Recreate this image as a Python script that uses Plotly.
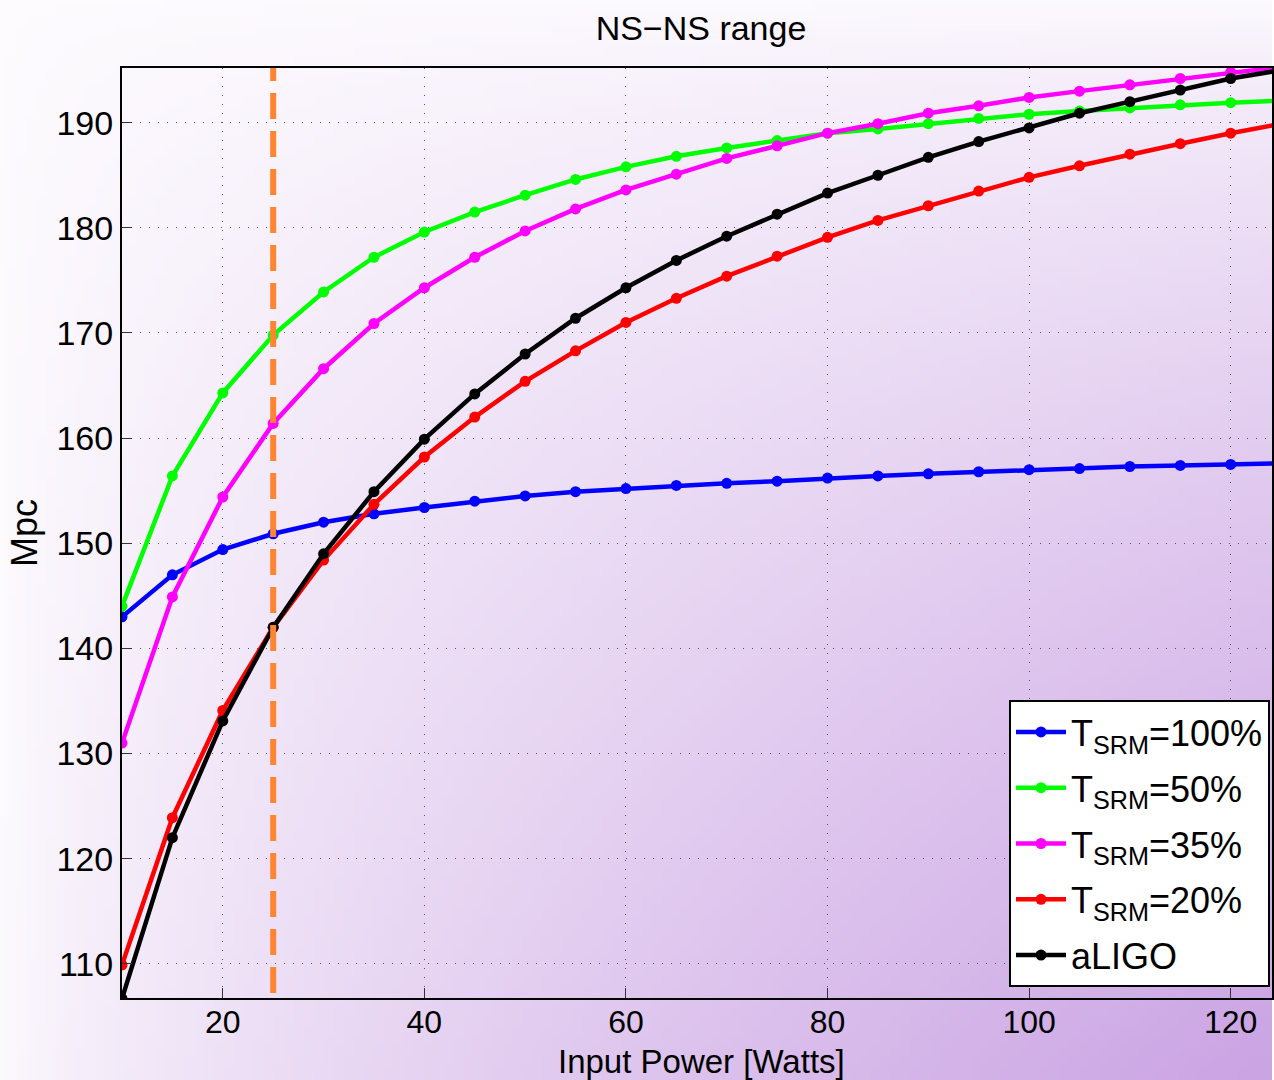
import base64, struct, zlib
import plotly.graph_objects as go

# ---------------- data ----------------
power = [10, 15, 20, 25, 30, 35, 40, 45, 50, 55, 60, 65, 70, 75, 80, 85, 90, 95,
         100, 105, 110, 115, 120, 125]
t100 = [143.0, 147.0, 149.4, 150.9, 152.0, 152.8, 153.4, 154.0, 154.5, 154.9, 155.2,
        155.5, 155.7, 155.9, 156.2, 156.4, 156.6, 156.8, 157.0, 157.1, 157.3, 157.4,
        157.5, 157.6]
t50 = [144.0, 156.4, 164.3, 169.8, 173.9, 177.2, 179.6, 181.5, 183.1, 184.6, 185.8,
       186.8, 187.6, 188.3, 189.0, 189.4, 189.9, 190.4, 190.8, 191.1, 191.4, 191.7,
       191.9, 192.1]
t35 = [131.0, 144.9, 154.4, 161.4, 166.6, 170.9, 174.3, 177.2, 179.7, 181.8, 183.6,
       185.1, 186.6, 187.8, 189.0, 189.9, 190.9, 191.6, 192.4, 193.0, 193.6, 194.2,
       194.8, 195.3]
t20 = [109.9, 123.9, 134.1, 142.0, 148.4, 153.7, 158.2, 162.0, 165.4, 168.3, 171.0,
       173.3, 175.4, 177.3, 179.1, 180.7, 182.1, 183.5, 184.8, 185.9, 187.0, 188.0,
       189.0, 189.9]
aligo = [106.7, 122.0, 133.1, 142.0, 149.0, 154.9, 159.9, 164.2, 168.0, 171.4, 174.3,
         176.9, 179.2, 181.3, 183.3, 185.0, 186.7, 188.2, 189.5, 190.9, 192.0, 193.1,
         194.2, 195.0]
ref_power = 25
series_names = ["T<sub>SRM</sub>=100%", "T<sub>SRM</sub>=50%", "T<sub>SRM</sub>=35%",
                "T<sub>SRM</sub>=20%", "aLIGO"]
series_colors = ["#0000ff", "#00ff00", "#ff00ff", "#ff0000", "#000000"]
x_ticks = [20, 40, 60, 80, 100, 120]
y_ticks = [110, 120, 130, 140, 150, 160, 170, 180, 190]

# ---------------- background gradient (decoration) ----------------
W, H = 128, 108
c0 = (253, 251, 254)
c1 = (202, 163, 227)
rows = []
for j in range(H):
    row = bytearray([0])
    yn = (j + 0.5) / H
    for i in range(W):
        xn = (i + 0.5) / W
        t = (xn * yn) ** 0.7
        row += bytes(int(round(c0[k] + (c1[k] - c0[k]) * t)) for k in range(3))
    rows.append(bytes(row))
raw = b"".join(rows)

def chunk(tag, data):
    c = struct.pack(">I", len(data)) + tag + data
    return c + struct.pack(">I", zlib.crc32(tag + data) & 0xffffffff)

png = b"\x89PNG\r\n\x1a\n" + chunk(b"IHDR", struct.pack(">IIBBBBB", W, H, 8, 2, 0, 0, 0)) \
    + chunk(b"IDAT", zlib.compress(raw, 9)) + chunk(b"IEND", b"")
bg_src = "data:image/png;base64," + base64.b64encode(png).decode()

# ---------------- figure ----------------
FW, FH = 1274, 1080
ML, MR, MT, MB = 122, 0, 68, 82
PW, PH = FW - ML - MR, FH - MT - MB

fig = go.Figure()
ys = [t100, t50, t35, t20, aligo]
for idx, (name, col, yv) in enumerate(zip(series_names, series_colors, ys)):
    fig.add_trace(go.Scatter(
        x=power, y=yv, name=name, mode="lines+markers", legendgroup=f"g{idx}",
        line=dict(color=col, width=4.5), marker=dict(color=col, size=11),
    ))

fig.add_trace(go.Scatter(
    x=[ref_power, ref_power], y=[100, 200], mode="lines", showlegend=False,
    line=dict(color="#ff8533", width=6, dash="26px,12px"), hoverinfo="skip",
))

fig.add_layout_image(dict(
    source=bg_src, xref="paper", yref="paper",
    x=-ML / PW, y=1 + MT / PH, sizex=FW / PW, sizey=FH / PH,
    xanchor="left", yanchor="top", sizing="stretch", layer="below",
))

fig.add_annotation(
    text="Input Power [Watts]", xref="paper", yref="paper",
    x=(703 - ML) / PW, y=-(1061 - (FH - MB)) / PH, xanchor="center", yanchor="middle",
    showarrow=False, font=dict(size=33),
)

font_family = "Liberation Sans, Arial, Helvetica, sans-serif"
fig.update_layout(
    width=FW, height=FH,
    margin=dict(l=ML, r=MR, t=MT, b=MB),
    paper_bgcolor="white", plot_bgcolor="rgba(0,0,0,0)",
    font=dict(family=font_family, size=34, color="black"),
    title=dict(text="NS\u2212NS range", x=701 / FW, xanchor="center",
               y=1 - 28 / FH, yanchor="middle", font=dict(size=34)),
    showlegend=True,
    legend=dict(x=1.0 - (1274 - 1272) / PW, xanchor="right", y=(998 - 987) / PH, yanchor="bottom",
                bgcolor="white", bordercolor="black", borderwidth=2,
                font=dict(size=36), itemwidth=50, tracegroupgap=6),
    xaxis=dict(range=[10, 124.1], tickvals=x_ticks, ticks="inside", ticklen=10,
               tickcolor="#333", showline=True, linecolor="black", linewidth=2,
               mirror=True, showgrid=True, gridcolor="#555", griddash="1px,8px",
               gridwidth=1, zeroline=False, ticklabelstandoff=-5,
               tickfont=dict(size=32)),
    yaxis=dict(range=[106.75, 195.2], tickvals=y_ticks, ticks="inside", ticklen=10,
               tickcolor="#333", showline=True, linecolor="black", linewidth=2,
               mirror=True, showgrid=True, gridcolor="#555", griddash="1px,8px",
               gridwidth=1, zeroline=False,
               title=dict(text="Mpc", font=dict(size=36), standoff=8),
               tickfont=dict(size=34)),
)

fig.write_html("out.html")
